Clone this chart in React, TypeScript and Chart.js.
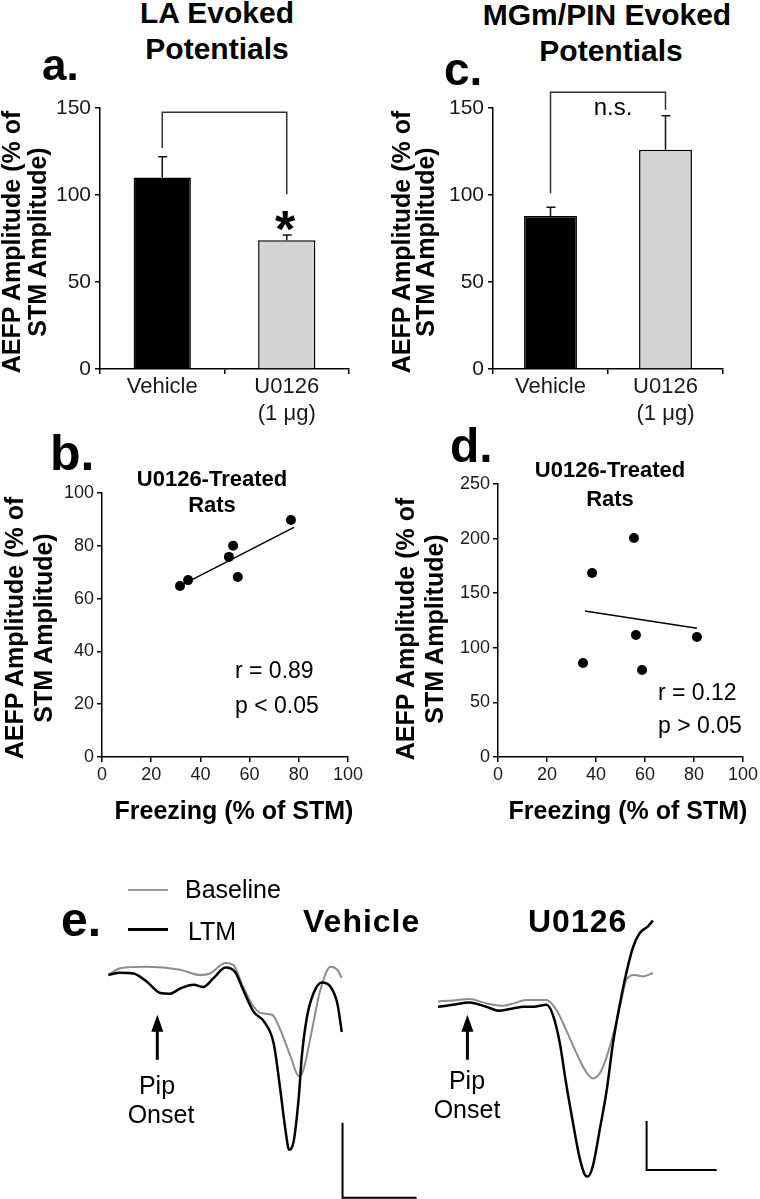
import React, { useEffect, useRef } from 'react';
import { Chart, registerables } from 'chart.js';

Chart.register(...registerables);

const FONT = '"Liberation Sans", Arial, Helvetica, sans-serif';
Chart.defaults.font.family = FONT;

// ---------------- data ----------------
// panels a / c (bar charts)
const barCategories: (string | string[])[] = ['Vehicle', ['U0126', '(1 μg)']];
const barAxis = [0, 150, 50]; // min, max, step
const laMeans = [110, 74];
const laSem = [12, 3];
const laBracket = [127, 147.5, 100.5]; // left leg end, top, right leg end
const mgMeans = [88, 126];
const mgSem = [5, 19.5];
const mgBracket = [101, 159, 149];

// panels b / d (scatter)
const freezingAxis = [0, 100, 20];
const laAmpAxis = [0, 100, 20];
const laFreezing = [31.7, 35, 51.6, 53.3, 55.2, 76.8];
const laAmplitude = [64.8, 67, 75.8, 80, 68.2, 89.8];
const laFitFreezing = [32.5, 78];
const laFitAmplitude = [65.2, 87];

const mgAmpAxis = [0, 250, 50];
const mgFreezing = [34.7, 38.4, 55.5, 56.3, 58.8, 81.2];
const mgAmplitude = [86, 168.5, 200.5, 111.7, 79.7, 109.9];
const mgFitFreezing = [35.5, 81.2];
const mgFitAmplitude = [133.7, 118];

// panel e (evoked potential traces, ms / µV)
const vehBaselineMs = [0, 1.6, 5.2, 9.7, 12.4, 13.7, 15.8, 16.9, 18.2, 19.6, 20.7, 22.1, 23.2, 24.6, 25.7, 26.3, 27.3, 28.6, 30.0, 30.9, 31.5];
const vehBaselineUv = [0, 9, 11, 7, 0, 2, 16, 13, -16, -42, -51, -53, -73, -109, -135, -127, -82, -20, 11, 7, -4];
const vehLtmMs = [0, 1.6, 3.4, 5.2, 7.0, 8.3, 9.7, 11.5, 12.8, 14.2, 15.8, 17.1, 18.2, 19.6, 21.0, 22.3, 23.2, 23.9, 24.4, 25.0, 25.7, 26.1, 26.8, 27.7, 28.8, 30.0, 30.9, 31.5];
const vehLtmUv = [0, 3, 2, -9, -24, -25, -18, -13, -16, -4, 10, 4, -20, -49, -62, -91, -153, -207, -233, -222, -162, -109, -56, -24, -10, -16, -38, -76];

const u0BaselineMs = [0, 2.1, 4.5, 6.9, 9.3, 10.8, 12.6, 15.5, 16.9, 18.3, 19.8, 21.0, 22.1, 23.1, 24.1, 25.2, 26.2, 26.9, 28.1, 29.3, 30.7];
const u0BaselineUv = [5, 7, 10, 1, -4, 1, 8, 8, -12, -53, -101, -135, -152, -142, -108, -53, 8, 49, 59, 56, 63];
const u0LtmMs = [0, 2.1, 4.5, 6.9, 8.8, 10.8, 12.2, 13.6, 15.5, 16.4, 17.4, 18.3, 19.3, 20.2, 21.0, 21.4, 22.1, 23.1, 24.1, 25.0, 26.0, 26.9, 27.9, 28.8, 30.0, 30.7];
const u0LtmUv = [-6, -2, 3, -6, -14, -9, -6, -6, -2, -22, -80, -162, -244, -312, -349, -352, -332, -257, -176, -80, 1, 63, 117, 144, 158, 170];

const scaleBarMs = 10;
const scaleBarUv = 100;
// [pip onset ms, arrow tip µV, arrow base µV, scale bar ms, scale bar µV]
const vehAnnot = [6.6, -53, -113, 31.6, -297];
const u0Annot = [4.2, -22, -114, 29.8, -339];

// ---------------- helpers ----------------
const base: any = {
  responsive: false,
  animation: false,
  events: [],
  plugins: { legend: { display: false }, tooltip: { enabled: false } },
};

function axis(fontSize: number, pad: number, size: number, isX: boolean, lineHeight = 1.2) {
  return {
    grid: { display: true, drawOnChartArea: false, drawTicks: true, tickLength: 5, color: '#000', lineWidth: 1.5 },
    border: { display: true, color: '#000', width: 1.5 },
    ticks: { color: '#1a1a1a', padding: pad, font: { size: fontSize, family: FONT, lineHeight } },
    afterFit: (s: any) => {
      if (isX) s.height = size;
      else s.width = size;
    },
  };
}

function grayPattern(): any {
  const c = document.createElement('canvas');
  c.width = 4;
  c.height = 4;
  const g = c.getContext('2d')!;
  g.fillStyle = '#d6d6d6';
  g.fillRect(0, 0, 4, 4);
  g.fillStyle = '#c2c2c2';
  g.fillRect(0, 0, 1, 1);
  g.fillRect(2, 2, 1, 1);
  return g.createPattern(c, 'repeat');
}

const barAnnot = (sem: number[], bracket: number[]) => ({
  id: 'barAnnot',
  afterDatasetsDraw(chart: any) {
    const { ctx } = chart;
    const y = chart.scales.y;
    const meta = chart.getDatasetMeta(0);
    const vals = chart.data.datasets[0].data as number[];
    ctx.save();
    ctx.strokeStyle = '#111';
    ctx.lineWidth = 1.5;
    meta.data.forEach((el: any, i: number) => {
      const y0 = y.getPixelForValue(vals[i]);
      const y1 = y.getPixelForValue(vals[i] + sem[i]);
      ctx.beginPath();
      ctx.moveTo(el.x, y0);
      ctx.lineTo(el.x, y1);
      ctx.moveTo(el.x - 4, y1);
      ctx.lineTo(el.x + 5, y1);
      ctx.stroke();
    });
    const xl = meta.data[0].x;
    const xr = meta.data[1].x;
    ctx.strokeStyle = '#333';
    ctx.beginPath();
    ctx.moveTo(xl, y.getPixelForValue(bracket[0]));
    ctx.lineTo(xl, y.getPixelForValue(bracket[1]));
    ctx.lineTo(xr, y.getPixelForValue(bracket[1]));
    ctx.lineTo(xr, y.getPixelForValue(bracket[2]));
    ctx.stroke();
    ctx.restore();
  },
});

function barConfig(means: number[], sem: number[], bracket: number[], pad: any) {
  return () => ({
    type: 'bar',
    data: {
      labels: barCategories,
      datasets: [
        {
          data: means,
          backgroundColor: ['#000000', grayPattern()],
          borderColor: '#000',
          borderWidth: 1.5,
          categoryPercentage: 1,
          barPercentage: 0.46,
        },
      ],
    },
    options: {
      ...base,
      layout: { padding: pad },
      scales: {
        x: axis(22, 0, 60, true, 1.2),
        y: {
          ...axis(21, 4, 50, false),
          min: barAxis[0],
          max: barAxis[1],
          ticks: { ...axis(21, 4, 50, false).ticks, stepSize: barAxis[2] },
        },
      },
    },
    plugins: [barAnnot(sem, bracket)],
  });
}

function scatterConfig(
  fx: number[], ay: number[], fitX: number[], fitY: number[], yAxis: number[], pad: any,
) {
  return () => ({
    type: 'scatter',
    data: {
      datasets: [
        {
          data: fitX.map((x, i) => ({ x, y: fitY[i] })),
          showLine: true,
          borderColor: '#000',
          borderWidth: 1.5,
          pointRadius: 0,
        },
        {
          data: fx.map((x, i) => ({ x, y: ay[i] })),
          pointRadius: 5,
          backgroundColor: '#000',
          borderWidth: 0,
        },
      ],
    },
    options: {
      ...base,
      layout: { padding: pad },
      scales: {
        x: {
          ...axis(18, 2, 30, true),
          type: 'linear',
          min: freezingAxis[0],
          max: freezingAxis[1],
          ticks: { ...axis(18, 2, 30, true).ticks, stepSize: freezingAxis[2] },
        },
        y: {
          ...axis(18, 3, 50, false),
          min: yAxis[0],
          max: yAxis[1],
          ticks: { ...axis(18, 3, 50, false).ticks, stepSize: yAxis[2] },
        },
      },
    },
  });
}

const traceAnnot = (a: number[]) => ({
  id: 'traceAnnot',
  afterDatasetsDraw(chart: any) {
    const { ctx } = chart;
    const { x, y } = chart.scales;
    ctx.save();
    ctx.strokeStyle = '#000';
    ctx.fillStyle = '#000';
    // pip onset arrow
    const ax = x.getPixelForValue(a[0]);
    const ty = y.getPixelForValue(a[1]);
    const by = y.getPixelForValue(a[2]);
    ctx.lineWidth = 3;
    ctx.beginPath();
    ctx.moveTo(ax, by);
    ctx.lineTo(ax, ty + 12);
    ctx.stroke();
    ctx.beginPath();
    ctx.moveTo(ax, ty);
    ctx.lineTo(ax - 6, ty + 17);
    ctx.lineTo(ax + 6, ty + 17);
    ctx.closePath();
    ctx.fill();
    // scale bar
    const sx0 = x.getPixelForValue(a[3]);
    const sx1 = x.getPixelForValue(a[3] + scaleBarMs);
    const sy0 = y.getPixelForValue(a[4] + scaleBarUv);
    const sy1 = y.getPixelForValue(a[4]);
    ctx.lineWidth = 2;
    ctx.beginPath();
    ctx.moveTo(sx0, sy0);
    ctx.lineTo(sx0, sy1);
    ctx.lineTo(sx1, sy1);
    ctx.stroke();
    ctx.restore();
  },
});

function traceConfig(
  bMs: number[], bUv: number[], lMs: number[], lUv: number[], xr: number[], yr: number[], annot: number[],
) {
  return () => ({
    type: 'line',
    data: {
      datasets: [
        {
          data: lMs.map((x, i) => ({ x, y: lUv[i] })),
          borderColor: '#000',
          borderWidth: 2.5,
          pointRadius: 0,
          cubicInterpolationMode: 'monotone',
        },
        {
          data: bMs.map((x, i) => ({ x, y: bUv[i] })),
          borderColor: '#8c8c8c',
          borderWidth: 2,
          pointRadius: 0,
          cubicInterpolationMode: 'monotone',
        },
      ],
    },
    options: {
      ...base,
      layout: { padding: 0 },
      scales: {
        x: { type: 'linear', display: false, min: xr[0], max: xr[1] },
        y: { type: 'linear', display: false, min: yr[0], max: yr[1] },
      },
    },
    plugins: [traceAnnot(annot)],
  });
}

function ChartBox(props: { left: number; top: number; width: number; height: number; make: () => any }) {
  const ref = useRef<HTMLCanvasElement>(null);
  useEffect(() => {
    const chart = new Chart(ref.current as HTMLCanvasElement, props.make());
    return () => chart.destroy();
  }, []);
  return (
    <canvas
      ref={ref}
      width={props.width}
      height={props.height}
      style={{ position: 'absolute', left: props.left, top: props.top, width: props.width, height: props.height }}
    />
  );
}

// text placed by baseline
function T(props: { x: number; y: number; size: number; bold?: boolean; center?: boolean; children: string; ls?: number }) {
  const { x, y, size, bold, center, children, ls } = props;
  const style: any = {
    position: 'absolute',
    top: y - 0.8465 * size,
    left: center ? x - 300 : x,
    width: center ? 600 : undefined,
    textAlign: center ? 'center' : 'left',
    fontSize: size,
    lineHeight: `${size}px`,
    fontWeight: bold ? 700 : 400,
    whiteSpace: 'nowrap',
    fontFamily: FONT,
    letterSpacing: ls ? `${ls}px` : undefined,
    color: '#000',
  };
  return <div style={style}>{children}</div>;
}

function RotTitle(props: { cx: number; cy: number; size: number; gap: number; lines: string[] }) {
  const { cx, cy, size, gap, lines } = props;
  const w = 400;
  const h = gap * lines.length;
  return (
    <div
      style={{
        position: 'absolute',
        left: cx - w / 2,
        top: cy - h / 2,
        width: w,
        height: h,
        transform: 'rotate(-90deg)',
        transformOrigin: 'center',
        textAlign: 'center',
        fontSize: size,
        lineHeight: `${gap}px`,
        fontWeight: 700,
        fontFamily: FONT,
        whiteSpace: 'pre',
        color: '#000',
      }}
    >
      {lines.join('\n')}
    </div>
  );
}

const yTitle = ['AEFP Amplitude (% of', 'STM Amplitude)'];

export default function App() {
  return (
    <div
      style={{
        position: 'absolute',
        left: 0,
        top: 0,
        width: 760,
        height: 1199,
        background: '#fff',
        overflow: 'hidden',
        fontFamily: FONT,
      }}
    >
      <ChartBox left={0} top={80} width={380} height={360}
        make={barConfig(laMeans, laSem, laBracket, { left: 50, right: 31, top: 28, bottom: 11 })} />
      <ChartBox left={380} top={80} width={380} height={360}
        make={barConfig(mgMeans, mgSem, mgBracket, { left: 63, right: 37, top: 28, bottom: 11 })} />
      <ChartBox left={0} top={470} width={380} height={320}
        make={scatterConfig(laFreezing, laAmplitude, laFitFreezing, laFitAmplitude, laAmpAxis, { left: 52, right: 32, top: 23, bottom: 3 })} />
      <ChartBox left={380} top={460} width={380} height={330}
        make={scatterConfig(mgFreezing, mgAmplitude, mgFitFreezing, mgFitAmplitude, mgAmpAxis, { left: 68, right: 17, top: 24, bottom: 3 })} />
      <ChartBox left={101} top={945} width={326} height={255}
        make={traceConfig(vehBaselineMs, vehBaselineUv, vehLtmMs, vehLtmUv, [-1, 43], [-300, 40], vehAnnot)} />
      <ChartBox left={431} top={896} width={301} height={304}
        make={traceConfig(u0BaselineMs, u0BaselineUv, u0LtmMs, u0LtmUv, [-1, 42], [-400, 220], u0Annot)} />

      {/* titles */}
      <T x={217} y={23} size={30} bold center>LA Evoked</T>
      <T x={217} y={59} size={30} bold center>Potentials</T>
      <T x={607} y={25} size={30} bold center>MGm/PIN Evoked</T>
      <T x={611} y={61} size={30} bold center>Potentials</T>

      {/* panel letters */}
      <T x={42} y={80} size={44} bold>a.</T>
      <T x={444} y={85} size={46} bold>c.</T>
      <T x={50} y={470} size={50} bold>b.</T>
      <T x={450} y={463} size={48} bold>d.</T>
      <T x={61} y={937} size={48} bold>e.</T>

      {/* y-axis titles */}
      <RotTitle cx={24} cy={242} size={25} gap={26} lines={yTitle} />
      <RotTitle cx={413} cy={242} size={25} gap={24} lines={yTitle} />
      <RotTitle cx={29} cy={628} size={25} gap={29} lines={yTitle} />
      <RotTitle cx={420} cy={629} size={25} gap={29} lines={yTitle} />

      {/* bar annotations */}
      <T x={285} y={247} size={52} bold center>*</T>
      <T x={613} y={115} size={24} center>n.s.</T>

      {/* scatter annotations */}
      <T x={212} y={487} size={22} bold center>U0126-Treated</T>
      <T x={212} y={513} size={22} bold center>Rats</T>
      <T x={610} y={478} size={22} bold center>U0126-Treated</T>
      <T x={610} y={507} size={22} bold center>Rats</T>
      <T x={235} y={678} size={23}>r = 0.89</T>
      <T x={235} y={713} size={23}>p &lt; 0.05</T>
      <T x={658} y={700} size={23}>r = 0.12</T>
      <T x={658} y={733} size={23}>p &gt; 0.05</T>
      <T x={234} y={819} size={25} bold center>Freezing (% of STM)</T>
      <T x={628} y={819} size={25} bold center>Freezing (% of STM)</T>

      {/* panel e */}
      <div style={{ position: 'absolute', left: 128, top: 889, width: 40, height: 2, background: '#9a9a9a' }} />
      <div style={{ position: 'absolute', left: 128, top: 928, width: 40, height: 3, background: '#000' }} />
      <T x={185} y={898} size={25}>Baseline</T>
      <T x={188} y={940} size={25}>LTM</T>
      <T x={303} y={932} size={32} bold ls={1}>Vehicle</T>
      <T x={528} y={932} size={32} bold ls={1}>U0126</T>
      <T x={157} y={1094} size={25} center>Pip</T>
      <T x={161} y={1123} size={25} center>Onset</T>
      <T x={467} y={1089} size={25} center>Pip</T>
      <T x={467} y={1118} size={25} center>Onset</T>
    </div>
  );
}
